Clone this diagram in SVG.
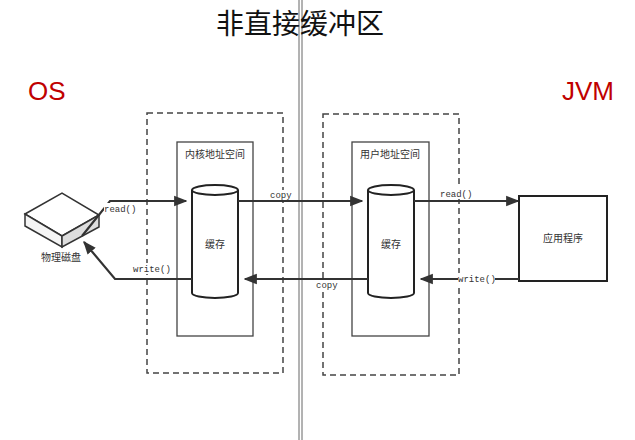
<svg xmlns="http://www.w3.org/2000/svg" width="635" height="440" viewBox="0 0 635 440">
<defs>
<marker id="ah" viewBox="0 0 10 10" refX="9" refY="5" markerWidth="6" markerHeight="6" orient="auto"><path d="M0,1 L10,5 L0,9 z" fill="#333"/></marker>
<style>
.dash{fill:none;stroke:#444;stroke-width:1.5;stroke-dasharray:6,4}
.box{fill:#fff;stroke:#444;stroke-width:1.3}
.cyl{fill:#fff;stroke:#222;stroke-width:2}
.ln{fill:none;stroke:#333;stroke-width:2.2;marker-end:url(#ah)}
.t{font-family:"Liberation Serif","Noto Sans CJK SC",serif;font-size:10px;fill:#333}
.m{font-family:"Liberation Mono","Noto Sans CJK SC",monospace;font-size:9px;fill:#333}
.big{font-family:"Liberation Sans","Noto Sans CJK SC",sans-serif;font-size:26px;fill:#c00000}
</style>
</defs>
<rect width="635" height="440" fill="#fff"/>
<g id="divider"><line x1="299" y1="0" x2="299" y2="440" stroke="#666" stroke-width="1"/><line x1="302" y1="0" x2="302" y2="440" stroke="#666" stroke-width="1"/></g>
<text x="300" y="34" text-anchor="middle" font-family="Noto Sans CJK SC,sans-serif" font-size="28" fill="#111">非直接缓冲区</text>
<text class="big" x="28" y="100">OS</text>
<text class="big" x="562" y="100">JVM</text>
<g id="kernel"><rect class="dash" x="147" y="113" width="136" height="260"/><rect class="box" x="177" y="142" width="76" height="194"/><text class="t" x="215" y="158" text-anchor="middle">内核地址空间</text></g>
<g id="kcache"><path class="cyl" d="M192,190 L192,293 A23,5 0 0 0 238,293 L238,190"/><ellipse class="cyl" cx="215" cy="190" rx="23" ry="5"/><text class="t" x="215" y="248" text-anchor="middle">缓存</text></g>
<g id="user"><rect class="dash" x="323" y="114" width="136" height="261"/><rect class="box" x="352" y="142" width="77" height="194"/><text class="t" x="390" y="158" text-anchor="middle">用户地址空间</text></g>
<g id="ucache"><path class="cyl" d="M368,190 L368,293 A23,5 0 0 0 414,293 L414,190"/><ellipse class="cyl" cx="391" cy="190" rx="23" ry="5"/><text class="t" x="391" y="248" text-anchor="middle">缓存</text></g>
<g id="app"><rect x="519" y="196" width="88" height="85" fill="#fff" stroke="#222" stroke-width="2"/><text class="t" x="563" y="242" text-anchor="middle">应用程序</text></g>
<g id="disk">
<path d="M25,214 L62,193 L99,215 L62,236 z" fill="#fff" stroke="#333" stroke-width="1.5"/>
<path d="M25,214 L25,226 L62,247 L62,236 z" fill="#f4f4f4" stroke="#333" stroke-width="1.5"/>
<path d="M62,236 L99,215 L99,227 L62,247 z" fill="#ddd" stroke="#333" stroke-width="1.5"/>
<text class="t" x="61" y="261" text-anchor="middle">物理磁盘</text></g>
<g id="connectors">
<path class="ln" d="M82,236 L110,201 L186,201"/>
<path class="ln" d="M192,279 L115,279 L84,242"/>
<path class="ln" d="M238,201 L362,201"/>
<path class="ln" d="M368,279 L245,279"/>
<path class="ln" d="M414,201 L518,201"/>
<path class="ln" d="M519,279 L421,279"/>
<rect x="104" y="203" width="30" height="11" fill="#fff"/><text class="m" x="104" y="212">read()</text>
<rect x="133" y="263" width="36" height="11" fill="#fff"/><text class="m" x="133" y="272">write()</text>
<rect x="269" y="190" width="24" height="10" fill="#fff"/><text class="m" x="270" y="198">copy</text>
<rect x="315" y="280" width="22" height="10" fill="#fff"/><text class="m" x="316" y="288">copy</text>
<rect x="439" y="188" width="32" height="11" fill="#fff"/><text class="m" x="440" y="197">read()</text>
<rect x="458" y="273" width="37" height="11" fill="#fff"/><text class="m" x="458" y="282">write()</text>
</g>
</svg>
